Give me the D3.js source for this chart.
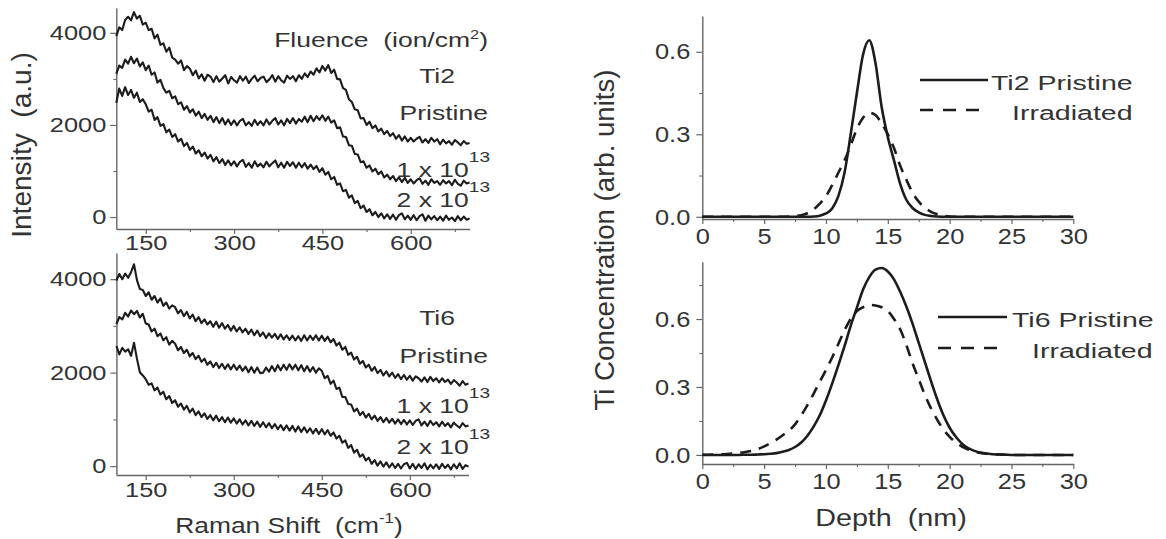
<!DOCTYPE html>
<html><head><meta charset="utf-8">
<script src="https://cdn.jsdelivr.net/npm/d3@7"></script>
<style>
body{margin:0;background:#fff;}
svg{display:block;}
text{white-space:pre;}
</style></head><body>
<svg id="chart" width="1166" height="539"></svg>
<script>
// ---------- DATA ----------
const ramanShift = d3.range(100, 700.1, 5); // cm^-1, 121 points
const ramanTicks = [150, 300, 450, 600];
const ramanMinor = [225, 375, 525, 675];
const intensityTicks = [0, 2000, 4000];
const intensityMinor = [1000, 3000];

const ti2Pristine = [
3930,4120,4060,4280,4350,4270,4450,4310,4370,4180,
4220,4060,4090,3880,3960,3740,3770,3590,3680,3460,
3420,3330,3400,3190,3280,3220,3080,3180,3010,3100,
2960,3090,3050,2930,3060,2940,3010,3080,2900,3040,
2970,2920,3060,2960,3050,2910,3000,3070,2950,3020,
3050,2930,2990,3080,2940,3060,2970,2920,3070,3000,
3060,2950,3080,3000,3120,3040,3160,3090,3230,3140,
3280,3180,3300,3130,3200,3000,2990,2800,2760,2560,
2500,2340,2320,2140,2150,2000,2070,1930,1990,1860,
1920,1800,1870,1760,1820,1700,1780,1660,1750,1640,
1720,1640,1700,1740,1620,1690,1610,1720,1640,1690,
1580,1680,1600,1650,1570,1670,1620,1560,1650,1590,
1610];
const ti2Fluence1 = [
3110,3290,3240,3420,3330,3480,3340,3440,3270,3360,
3190,3290,3090,3140,2920,2980,2800,2700,2740,2580,
2620,2450,2490,2330,2410,2270,2340,2200,2290,2150,
2240,2110,2200,2060,2170,2040,2150,2010,2120,2000,
2100,1990,2090,2130,1990,2060,1980,2110,2000,2080,
1990,2120,2010,2090,2150,2010,2100,1990,2130,2040,
2150,2030,2130,2070,2180,2060,2200,2080,2190,2110,
2210,2090,2180,2050,2100,1930,1950,1750,1740,1560,
1550,1370,1360,1190,1210,1070,1120,990,1050,930,
990,860,920,820,890,780,860,760,850,740,
820,730,800,840,720,790,700,820,740,780,
700,800,730,780,690,810,720,680,790,730,
750];
const ti2Fluence2 = [
2480,2790,2630,2820,2650,2760,2590,2700,2500,2560,
2450,2290,2330,2110,2170,1980,2020,1840,1900,1740,
1800,1640,1700,1540,1610,1460,1530,1380,1450,1320,
1400,1270,1350,1210,1300,1170,1260,1130,1230,1120,
1210,1100,1200,1240,1090,1170,1070,1210,1100,1160,
1080,1200,1100,1170,1230,1080,1180,1070,1200,1110,
1190,1070,1180,1080,1170,1050,1140,1040,1110,980,
1060,920,980,820,870,700,730,560,590,420,
470,300,350,190,250,110,170,40,110,0,
80,-30,60,-40,50,-60,40,80,-50,30,
-60,40,-70,20,60,-80,30,-50,20,-70,
10,-80,30,-60,-10,-90,20,-70,10,-60,
-30];
const ti6Pristine = [
3970,4110,4000,4120,4030,4150,4320,3980,3790,3770,
3640,3720,3560,3640,3500,3590,3430,3500,3370,3440,
3400,3270,3340,3210,3300,3160,3240,3100,3190,3060,
3140,3030,3100,2980,3090,2960,3060,2940,3020,2900,
3000,2880,2970,2860,2940,2830,2920,2800,2900,2780,
2860,2740,2840,2750,2830,2720,2820,2710,2800,2700,
2790,2690,2780,2680,2800,2690,2790,2700,2800,2690,
2790,2680,2770,2650,2720,2580,2640,2490,2550,2380,
2430,2280,2340,2190,2250,2110,2170,2040,2120,1990,
2060,1940,2030,1920,2000,1890,1970,1860,1950,1850,
1930,1830,1920,1880,1810,1900,1800,1910,1820,1880,
1790,1880,1800,1850,1760,1840,1790,1720,1820,1740,
1770];
const ti6Fluence1 = [
3040,3190,3140,3280,3200,3330,3250,3320,3180,3260,
3050,3030,2880,2940,2780,2840,2690,2760,2600,2680,
2620,2480,2550,2420,2490,2350,2420,2290,2360,2230,
2300,2170,2240,2120,2210,2100,2190,2080,2180,2070,
2170,2060,2150,2040,2130,2010,2120,2000,2110,1990,
2000,2110,2020,2140,2030,2160,2050,2170,2060,2180,
2070,2170,2050,2160,2030,2140,2020,2120,2000,2090,
2040,1880,1930,1760,1830,1650,1680,1480,1480,1330,
1320,1170,1230,1090,1160,1040,1120,1000,1080,970,
1050,940,1030,930,1010,910,1000,900,990,890,
980,880,970,1000,870,950,860,970,880,940,
850,950,860,920,830,930,870,820,920,850,
870];
const ti6Fluence2 = [
2570,2390,2530,2450,2500,2360,2640,2300,2010,1940,
1860,1740,1770,1620,1680,1530,1590,1430,1500,1350,
1410,1270,1340,1210,1290,1150,1230,1090,1170,1050,
1130,1010,1090,980,1080,960,1050,940,1040,930,
1020,910,1000,890,980,870,970,860,950,840,
940,830,920,810,900,790,880,770,870,760,
860,740,850,730,830,720,810,700,800,690,
790,680,770,650,720,590,650,500,550,390,
450,290,350,200,250,120,180,50,130,10,
100,-10,80,-30,60,-40,50,-50,40,70,
-50,50,-60,40,-40,60,-70,30,-50,40,
-60,50,-40,30,-70,40,-50,60,-60,20,
-10];

const depth = d3.range(0, 30.001, 0.5); // nm, 61 points
const depthTicks = [0, 5, 10, 15, 20, 25, 30];
const depthMinor = [2.5, 7.5, 12.5, 17.5, 22.5, 27.5];
const concTicks = [0, 0.3, 0.6];
const concMinorTop = [0.15, 0.45];
const concMinorBottom = [0.15, 0.45, 0.75];

const ti2DepthPristine = [
0,0,0,0,0,0,0,0,0,0,0,0,0,0,0,0,0,0,
0.001,0.004,0.012,0.03,0.075,0.16,0.30,0.45,0.59,0.642,0.56,0.40,0.29,0.205,0.12,0.062,0.032,0.016,0.007,0.003,0.001,
0,0,0,0,0,0,0,0,0,0,0,0,0,0,0,0,0,0,0,0,0,0];
const ti2DepthIrradiated = [
0,0,0,0,0,0,0,0,0,0,0,0,0,0,
0.001,0.003,0.006,0.013,0.027,0.048,0.075,0.115,0.16,0.205,0.26,0.32,0.36,0.378,0.37,0.34,0.30,0.25,0.186,0.135,0.088,0.055,0.033,0.018,0.009,0.004,0.001,
0,0,0,0,0,0,0,0,0,0,0,0,0,0,0,0,0,0,0,0];
const ti6DepthPristine = [
0,0,0,0,0,0,0,
0.001,0.001,0.002,0.003,0.005,0.008,0.014,0.022,0.035,0.055,0.085,0.125,0.175,0.24,0.315,0.395,0.48,0.57,0.65,0.73,0.785,0.818,0.825,
0.81,0.775,0.72,0.655,0.58,0.495,0.41,0.325,0.245,0.175,0.12,0.08,0.05,0.03,0.018,0.01,0.006,0.003,0.002,0.001,
0,0,0,0,0,0,0,0,0,0,0];
const ti6DepthIrradiated = [
0.001,0.001,0.002,0.003,0.004,0.006,0.009,0.013,0.018,0.026,0.038,0.052,0.068,0.087,0.107,0.135,0.175,0.22,0.27,0.323,
0.375,0.43,0.49,0.55,0.60,0.635,0.652,0.662,0.66,0.652,0.635,0.60,0.555,0.485,0.405,0.335,0.265,0.205,0.155,0.112,
0.08,0.055,0.037,0.024,0.015,0.009,0.005,0.003,0.002,0.001,
0,0,0,0,0,0,0,0,0,0,0];

// ---------- DRAWING ----------
const svg = d3.select("#chart");
const FONT = '"Liberation Sans", Arial, Helvetica, sans-serif';
const TXT = "#333";
const AX = "#666";
const INK = "#1c1c1c";

function label(parent, o) {
  const rot = o.rotate ? ` rotate(${o.rotate})` : "";
  const g = parent.append("g")
    .attr("transform", `translate(${o.x},${o.y})${rot} scale(${o.sx || 1},${o.sy || 1})`);
  const t = g.append("text")
    .attr("text-anchor", o.anchor || "start")
    .attr("font-family", FONT)
    .attr("font-size", o.size)
    .attr("fill", TXT);
  o.parts.forEach(p => {
    if (typeof p === "string") t.append("tspan").text(p);
    else {
      const s = t.append("tspan").text(p.t);
      if (p.size) s.attr("font-size", p.size);
      if (p.dy) s.attr("dy", p.dy);
    }
  });
}

function drawAxes(p) {
  const gx = svg.append("g").attr("transform", `translate(0,${p.axisY})`)
    .call(d3.axisBottom(p.x).tickValues(p.xTicks).tickFormat(p.xFmt)
      .tickSize(p.xTick).tickPadding(p.xPad).tickSizeOuter(0));
  gx.select(".domain").attr("stroke", AX).attr("stroke-width", 1.4);
  gx.selectAll(".tick line").attr("stroke", AX).attr("stroke-width", 1.2);
  gx.selectAll(".tick text").attr("font-family", FONT).attr("font-size", p.tickFont)
    .attr("fill", TXT).attr("transform", `scale(${p.tickSx},1)`);
  const gxm = svg.append("g").attr("transform", `translate(0,${p.axisY})`)
    .call(d3.axisBottom(p.x).tickValues(p.xMinor).tickFormat("").tickSize(3).tickSizeOuter(0));
  gxm.select(".domain").remove();
  gxm.selectAll(".tick line").attr("stroke", AX).attr("stroke-width", 1.1);
  const gy = svg.append("g").attr("transform", `translate(${p.axisX},0)`)
    .call(d3.axisLeft(p.y).tickValues(p.yTicks).tickFormat(p.yFmt)
      .tickSize(p.yTick).tickPadding(p.yPad).tickSizeOuter(0));
  gy.select(".domain").attr("stroke", AX).attr("stroke-width", 1.4);
  gy.selectAll(".tick line").attr("stroke", AX).attr("stroke-width", 1.2);
  gy.selectAll(".tick text").attr("font-family", FONT).attr("font-size", p.tickFont)
    .attr("fill", TXT)
    .attr("x", -(p.yTick + p.yPad) / p.tickSx)
    .attr("transform", `scale(${p.tickSx},1)`);
  const gym = svg.append("g").attr("transform", `translate(${p.axisX},0)`)
    .call(d3.axisLeft(p.y).tickValues(p.yMinor).tickFormat("").tickSize(3).tickSizeOuter(0));
  gym.select(".domain").remove();
  gym.selectAll(".tick line").attr("stroke", AX).attr("stroke-width", 1.1);
}

// ---- Left panels (Raman) ----
const xRtop = d3.scaleLinear().domain([100, 700]).range([116.3, 469.6]);
const yRtop = d3.scaleLinear().domain([-260, 4540]).range([229, 8]);
const xRbot = d3.scaleLinear().domain([100, 700]).range([116.4, 468.5]);
const yRbot = d3.scaleLinear().domain([-190, 4560]).range([475, 253]);

drawAxes({x: xRtop, y: yRtop, axisX: 116.3, axisY: 229,
  xTicks: ramanTicks, xMinor: ramanMinor, yTicks: intensityTicks, yMinor: intensityMinor,
  xFmt: d3.format("d"), yFmt: d3.format("d"),
  xTick: 5, xPad: 1.5, yTick: 6, yPad: 4, tickFont: 20, tickSx: 1.27});
drawAxes({x: xRbot, y: yRbot, axisX: 116.4, axisY: 475,
  xTicks: ramanTicks, xMinor: ramanMinor, yTicks: intensityTicks, yMinor: intensityMinor,
  xFmt: d3.format("d"), yFmt: d3.format("d"),
  xTick: 5, xPad: 3, yTick: 6, yPad: 4, tickFont: 20, tickSx: 1.27});

function spectrum(x, y, vals) {
  const line = d3.line().x((d, i) => x(ramanShift[i])).y(d => y(d));
  svg.append("path").datum(vals).attr("d", line)
    .attr("fill", "none").attr("stroke", INK).attr("stroke-width", 2.1)
    .attr("stroke-linejoin", "round");
}
[ti2Pristine, ti2Fluence1, ti2Fluence2].forEach(s => spectrum(xRtop, yRtop, s));
[ti6Pristine, ti6Fluence1, ti6Fluence2].forEach(s => spectrum(xRbot, yRbot, s));

const AS = 19.5, ASX = 1.36;
label(svg, {x: 488, y: 47, anchor: "end", size: AS, sx: ASX,
  parts: ["Fluence  (ion/cm", {t: "2", size: 12, dy: -8}, {t: ")", size: AS, dy: 8}]});
label(svg, {x: 455, y: 83, anchor: "end", size: AS, sx: ASX, parts: ["Ti2"]});
label(svg, {x: 488, y: 120, anchor: "end", size: AS, sx: ASX, parts: ["Pristine"]});
label(svg, {x: 490, y: 177, anchor: "end", size: AS, sx: ASX, parts: ["1 x 10", {t: "13", size: 14, dy: -15}]});
label(svg, {x: 490, y: 207, anchor: "end", size: AS, sx: ASX, parts: ["2 x 10", {t: "13", size: 14, dy: -15}]});

label(svg, {x: 455, y: 325, anchor: "end", size: AS, sx: ASX, parts: ["Ti6"]});
label(svg, {x: 488, y: 363, anchor: "end", size: AS, sx: ASX, parts: ["Pristine"]});
label(svg, {x: 490, y: 413, anchor: "end", size: AS, sx: ASX, parts: ["1 x 10", {t: "13", size: 14, dy: -15}]});
label(svg, {x: 490, y: 454, anchor: "end", size: AS, sx: ASX, parts: ["2 x 10", {t: "13", size: 14, dy: -15}]});

label(svg, {x: 289, y: 533, anchor: "middle", size: 22, sx: 1.2,
  parts: ["Raman Shift  (cm", {t: "-1", size: 14, dy: -10}, {t: ")", size: 22, dy: 10}]});
label(svg, {x: 31, y: 145, anchor: "middle", size: 23, sx: 1.22, sy: 1.2, rotate: -90,
  parts: ["Intensity  (a.u.)"]});

// ---- Right panels (depth profiles) ----
const xD = d3.scaleLinear().domain([0, 30]).range([702.3, 1073.3]);
const yDtop = d3.scaleLinear().domain([-0.008, 0.73]).range([219, 16]);
const yDbot = d3.scaleLinear().domain([-0.04, 0.853]).range([464, 261.7]);

drawAxes({x: xD, y: yDtop, axisX: 702.3, axisY: 219,
  xTicks: depthTicks, xMinor: depthMinor, yTicks: concTicks, yMinor: concMinorTop,
  xFmt: d3.format("d"), yFmt: d3.format(".1f"),
  xTick: 5, xPad: 4, yTick: 6, yPad: 6, tickFont: 22.5, tickSx: 1.13});
drawAxes({x: xD, y: yDbot, axisX: 702.3, axisY: 464,
  xTicks: depthTicks, xMinor: depthMinor, yTicks: concTicks, yMinor: concMinorBottom,
  xFmt: d3.format("d"), yFmt: d3.format(".1f"),
  xTick: 5, xPad: 4, yTick: 6, yPad: 6, tickFont: 22.5, tickSx: 1.13});

function profile(y, vals, dashed) {
  const line = d3.line().x((d, i) => xD(depth[i])).y(d => y(d)).curve(d3.curveMonotoneX);
  svg.append("path").datum(vals).attr("d", line)
    .attr("fill", "none").attr("stroke", INK).attr("stroke-width", 2.6)
    .attr("stroke-dasharray", dashed ? "11,8" : null);
}
profile(yDtop, ti2DepthPristine, false);
profile(yDtop, ti2DepthIrradiated, true);
profile(yDbot, ti6DepthPristine, false);
profile(yDbot, ti6DepthIrradiated, true);

function legendRow(x1, x2, y, dashed) {
  svg.append("line").attr("x1", x1).attr("x2", x2).attr("y1", y).attr("y2", y)
    .attr("stroke", INK).attr("stroke-width", 2.6)
    .attr("stroke-dasharray", dashed ? "13,10" : null);
}
legendRow(920, 988, 80, false);
legendRow(920, 988, 110, true);
label(svg, {x: 991, y: 90, size: 21, sx: 1.36, parts: ["Ti2 Pristine"]});
label(svg, {x: 1012, y: 120, size: 21, sx: 1.36, parts: ["Irradiated"]});
legendRow(938, 1007, 317, false);
legendRow(938, 1007, 348, true);
label(svg, {x: 1012, y: 327, size: 21, sx: 1.36, parts: ["Ti6 Pristine"]});
label(svg, {x: 1032, y: 358, size: 21, sx: 1.36, parts: ["Irradiated"]});

label(svg, {x: 891, y: 526, anchor: "middle", size: 23, sx: 1.25, parts: ["Depth  (nm)"]});
label(svg, {x: 614, y: 240, anchor: "middle", size: 23, sx: 1.2, sy: 1.22, rotate: -90,
  parts: ["Ti Concentration (arb. units)"]});
</script>
</body></html>
